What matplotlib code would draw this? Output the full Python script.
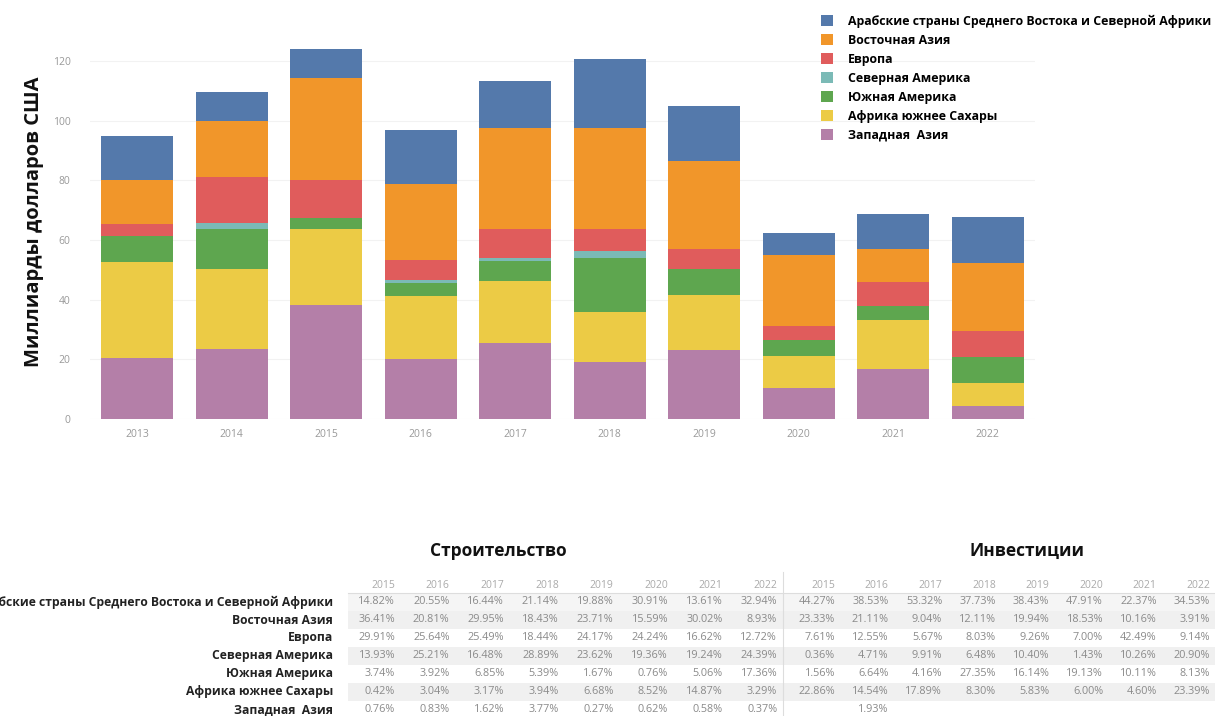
import numpy as np
import matplotlib
matplotlib.use("Agg")
import matplotlib.pyplot as plt
from matplotlib.patches import Rectangle

plt.rcParams["font.family"] = ["Open Sans", "DejaVu Sans"]

years = ["2013", "2014", "2015", "2016", "2017", "2018", "2019", "2020", "2021", "2022"]

regions = [
    "Арабские страны Среднего Востока и Северной Африки",
    "Восточная Азия",
    "Европа",
    "Северная Америка",
    "Южная Америка",
    "Африка южнее Сахары",
    "Западная  Азия",
]

# bar segments, billions USD
arab = [14.7, 10.0, 9.9, 18.1, 16.0, 23.2, 18.6, 7.5, 11.5, 15.3]
east_asia = [14.8, 18.7, 34.1, 25.6, 33.8, 33.9, 29.6, 23.6, 11.2, 23.0]
europe = [4.0, 15.3, 12.7, 6.5, 9.5, 7.2, 6.4, 4.8, 8.0, 8.6]
north_am = [0.0, 1.9, 0.0, 1.1, 1.2, 2.2, 0.0, 0.0, 0.0, 0.0]
south_am = [8.6, 13.4, 3.7, 4.5, 6.6, 18.4, 8.9, 5.3, 4.8, 8.7]
africa = [32.1, 26.8, 25.3, 21.1, 20.7, 16.7, 18.4, 10.6, 16.5, 7.7]
west_asia = [20.5, 23.6, 38.3, 20.0, 25.6, 19.0, 23.1, 10.5, 16.6, 4.4]

colors = ["#5479ab", "#f1962a", "#e05c5c", "#7bbab6", "#5ea64f", "#eccb45", "#b47fa8"]

table_years = ["2015", "2016", "2017", "2018", "2019", "2020", "2021", "2022"]
construction = [
    ["14.82%", "20.55%", "16.44%", "21.14%", "19.88%", "30.91%", "13.61%", "32.94%"],
    ["36.41%", "20.81%", "29.95%", "18.43%", "23.71%", "15.59%", "30.02%", "8.93%"],
    ["29.91%", "25.64%", "25.49%", "18.44%", "24.17%", "24.24%", "16.62%", "12.72%"],
    ["13.93%", "25.21%", "16.48%", "28.89%", "23.62%", "19.36%", "19.24%", "24.39%"],
    ["3.74%", "3.92%", "6.85%", "5.39%", "1.67%", "0.76%", "5.06%", "17.36%"],
    ["0.42%", "3.04%", "3.17%", "3.94%", "6.68%", "8.52%", "14.87%", "3.29%"],
    ["0.76%", "0.83%", "1.62%", "3.77%", "0.27%", "0.62%", "0.58%", "0.37%"],
]
investment = [
    ["44.27%", "38.53%", "53.32%", "37.73%", "38.43%", "47.91%", "22.37%", "34.53%"],
    ["23.33%", "21.11%", "9.04%", "12.11%", "19.94%", "18.53%", "10.16%", "3.91%"],
    ["7.61%", "12.55%", "5.67%", "8.03%", "9.26%", "7.00%", "42.49%", "9.14%"],
    ["0.36%", "4.71%", "9.91%", "6.48%", "10.40%", "1.43%", "10.26%", "20.90%"],
    ["1.56%", "6.64%", "4.16%", "27.35%", "16.14%", "19.13%", "10.11%", "8.13%"],
    ["22.86%", "14.54%", "17.89%", "8.30%", "5.83%", "6.00%", "4.60%", "23.39%"],
    ["", "1.93%", "", "", "", "", "", ""],
]

W, H = 1215, 716
fig = plt.figure(figsize=(W / 100, H / 100), dpi=100)

# overlay in pixel coordinates for the table
ov = fig.add_axes([0, 0, 1, 1], zorder=0)
ov.set_xlim(0, W)
ov.set_ylim(H, 0)
ov.axis("off")

ax = fig.add_axes([90 / W, 1 - 419 / H, 945 / W, 394 / H], zorder=1)
ax.patch.set_alpha(0)

series = [west_asia, africa, south_am, north_am, europe, east_asia, arab]
series_colors = colors[::-1]
x = np.arange(len(years))
bottom = np.zeros(len(years))
handles = []
for vals, col in zip(series, series_colors):
    b = ax.bar(x, vals, width=0.76, bottom=bottom, color=col, edgecolor="none", zorder=2)
    handles.append(b)
    bottom += np.array(vals)

ax.set_xlim(-0.5, 9.5)
ax.set_ylim(0, 132)
ax.set_yticks(range(0, 121, 20))
ax.set_xticks(x)
ax.set_xticklabels(years)
ax.tick_params(axis="both", length=0, labelsize=7.5, labelcolor="#999999")
ax.tick_params(axis="x", pad=7)
ax.tick_params(axis="y", pad=14)
ax.grid(axis="y", color="#f2f2f2", linewidth=0.8, zorder=0)
for s in ax.spines.values():
    s.set_visible(False)
ax.set_ylabel("Миллиарды долларов США", fontsize=14.5, fontweight="bold",
              color="#111111", labelpad=6)

fig.legend(handles[::-1], regions, loc="upper left",
           bbox_to_anchor=(816 / W, 1 - 10 / H), frameon=False,
           handlelength=1.0, handleheight=1.0, handletextpad=1.2,
           labelspacing=0.48, borderaxespad=0,
           prop={"family": ["Open Sans", "DejaVu Sans"], "size": 8.9, "weight": "bold"})

# table
row_y = [602, 620, 638, 656, 674, 692, 710]
head_y = 585
c_right = [395 + 54.6 * i for i in range(8)]
i_right = [835 + 53.6 * i for i in range(8)]

for r, yy in enumerate(row_y):
    if r in (0, 1, 3, 5):
        ov.add_patch(Rectangle((348, yy - 9), W - 348, 18,
                               color="#f0f0f0" if r else "#f5f5f5", lw=0, zorder=0))
ov.plot([348, W], [593, 593], color="#dddddd", lw=0.8)
ov.plot([783, 783], [572, H], color="#dddddd", lw=0.8)

ov.text(498, 551, "Строительство", ha="center", va="center",
        fontsize=12.5, fontweight="bold", color="#111111")
ov.text(1027, 551, "Инвестиции", ha="center", va="center",
        fontsize=12.5, fontweight="bold", color="#111111")

for j, yr in enumerate(table_years):
    ov.text(c_right[j], head_y, yr, ha="right", va="center", fontsize=7.5, color="#aaaaaa")
    ov.text(i_right[j], head_y, yr, ha="right", va="center", fontsize=7.5, color="#aaaaaa")

for r, name in enumerate(regions):
    yy = row_y[r]
    ov.text(333, yy, name, ha="right", va="center", fontsize=8.7,
            fontweight="bold", color="#222222")
    for j in range(8):
        ov.text(c_right[j], yy, construction[r][j], ha="right", va="center",
                fontsize=7.8, color="#8a8a8a")
        ov.text(i_right[j], yy, investment[r][j], ha="right", va="center",
                fontsize=7.8, color="#8a8a8a")

fig.savefig("out.png", dpi=100)
